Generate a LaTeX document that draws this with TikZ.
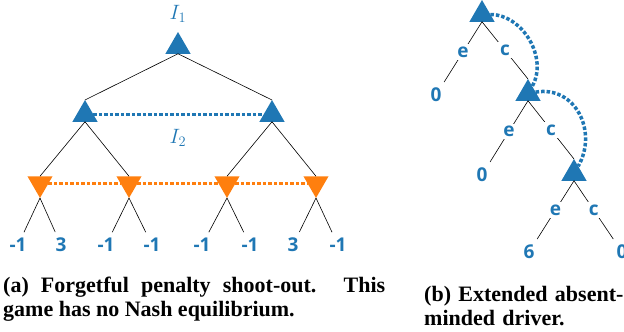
\documentclass[tikz,border=0pt]{standalone}
\usepackage{fontspec}
\setmainfont{Liberation Serif}
\newfontfamily\leaffont{Open Sans}
\usetikzlibrary{positioning, shapes.geometric}

\definecolor{playerblue}{HTML}{1F77B4}
\definecolor{playerorange}{HTML}{FF7F0E}

\begin{document}
\begin{tikzpicture}[
    x=1pt, y=1pt,
    player/.style={regular polygon, regular polygon sides=3, minimum size=29pt, inner sep=0pt, outer sep=0pt},
    maxnode/.style={player, fill=playerblue},
    minnode/.style={player, fill=playerorange, shape border rotate=180},
    leaf/.style={text=playerblue, font=\leaffont\bfseries\fontsize{19}{21}\selectfont, inner sep=3pt, outer sep=3pt},
    action/.style={text=playerblue, fill=white, font=\leaffont\bfseries\fontsize{19}{21}\selectfont, inner sep=2.5pt},
    infolabel/.style={text=playerblue, font=\fontsize{20}{22}\selectfont},
    edge/.style={line width=0.6pt},
    infoset/.style={line width=3.5pt, dash pattern=on 3.5pt off 2pt},
    caption/.style={font=\bfseries\fontsize{22}{24}\selectfont, anchor=base west, inner sep=0pt}
]
\useasboundingbox (0,0) rectangle (624,-332);

% 1. Forgetful penalty shoot-out (left)
\node[maxnode] (root) at (178,-46.5) {};
\node[infolabel] (i1) at (178,-14) {$I_1$};
\node[maxnode] (kick1) at (85,-114.5) {};
\node[maxnode] (kick2) at (272,-114.5) {};
\node[infolabel] (i2) at (178,-138) {$I_2$};
\foreach \n/\x in {1/40, 2/129, 3/227, 4/316}
    \node[minnode] (keep\n) at (\x,-183.5) {};
\foreach \n/\x/\v in {1/18/-1, 2/61/3, 3/106/-1, 4/152/-1, 5/202/-1, 6/250/-1, 7/293/3, 8/338/-1}
    \node[leaf] (pay\n) at (\x,-245) {\v};

% Paths
\draw[edge] (root.south) -- (kick1.north);
\draw[edge] (root.south) -- (kick2.north);
\draw[edge] (kick1.south) -- (keep1.north);
\draw[edge] (kick1.south) -- (keep2.north);
\draw[edge] (kick2.south) -- (keep3.north);
\draw[edge] (kick2.south) -- (keep4.north);
\foreach \k/\a/\b in {1/1/2, 2/3/4, 3/5/6, 4/7/8} {
    \draw[edge] (keep\k.south) -- (pay\a);
    \draw[edge] (keep\k.south) -- (pay\b);
}

% Information sets
\draw[infoset, playerblue] (kick1) -- (kick2);
\draw[infoset, playerorange] (keep1) -- (keep2) -- (keep3) -- (keep4);

% 2. Extended absent-minded driver (right)
\node[maxnode] (drive1) at (482,-14.5) {};
\node[maxnode] (drive2) at (528,-93.5) {};
\node[maxnode] (drive3) at (574,-173.5) {};
\node[leaf] (out1) at (436,-95) {0};
\node[leaf] (out2) at (482,-175) {0};
\node[leaf] (out3) at (529,-252) {6};
\node[leaf] (out4) at (622,-252) {0};

\draw[edge] (drive1.south) -- node[action] {e} (out1);
\draw[edge] (drive1.south) -- node[action] {c} (drive2.north);
\draw[edge] (drive2.south) -- node[action] {e} (out2);
\draw[edge] (drive2.south) -- node[action] {c} (drive3.north);
\draw[edge] (drive3.south) -- node[action] {e} (out3);
\draw[edge] (drive3.south) -- node[action] {c} (out4);

\draw[infoset, playerblue] (drive1) to[out=0, in=60] (drive2);
\draw[infoset, playerblue] (drive2) to[out=10, in=60, looseness=1.2] (drive3);

% Captions
\node[caption, text width=382pt, align=justify] (capa) at (3,-292) {(a) Forgetful penalty shoot-out. This game has no Nash equilibrium.};
\node[caption, text width=200pt, align=left] (capb) at (424,-301) {(b) Extended absent-\\minded driver.};

\end{tikzpicture}
\end{document}
